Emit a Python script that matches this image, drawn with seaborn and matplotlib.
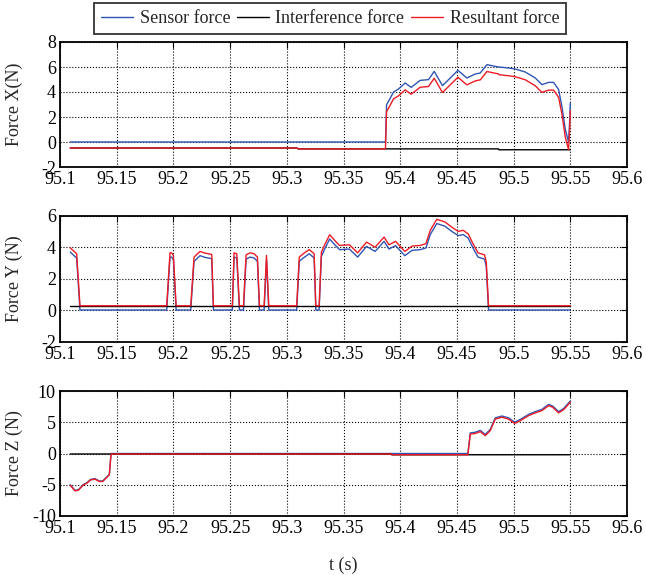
import numpy as np
import pandas as pd
import matplotlib
matplotlib.use("Agg")
import matplotlib.pyplot as plt
from matplotlib.lines import Line2D
import seaborn as sns

# ---- Force X ----
t_x = [95.109, 95.309, 95.310, 95.387, 95.388, 95.3897, 95.3941, 95.3985, 95.4044,
       95.4097, 95.4176, 95.425, 95.430, 95.4373, 95.4509, 95.4588, 95.4662, 95.4706,
       95.4765, 95.4838, 95.4866, 95.4870, 95.4956, 95.5015, 95.5103, 95.5191, 95.525,
       95.5309, 95.5353, 95.5397, 95.5426, 95.5456, 95.5485, 95.5495, 95.55]
sensor_x = [0, 0, 0, 0, 2.99, 3.25, 4.0, 4.24, 4.72,
            4.37, 4.93, 4.99, 5.65, 4.51, 5.73, 5.12, 5.44, 5.52,
            6.19, 6.05, 6.0, 6.0, 5.92, 5.84, 5.6, 5.12, 4.59,
            4.77, 4.77, 4.19, 2.85, 1.0, 0.0, 1.79, 3.12]
interf_x = [-0.48, -0.48, -0.55, -0.55, -0.55, -0.55, -0.55, -0.55, -0.55,
            -0.55, -0.55, -0.55, -0.55, -0.55, -0.55, -0.55, -0.55, -0.55,
            -0.55, -0.55, -0.55, -0.62, -0.62, -0.62, -0.62, -0.62, -0.62,
            -0.62, -0.62, -0.62, -0.62, -0.62, -0.62, -0.62, -0.62]

# ---- Force Y ----
t_y = [95.109, 95.1147, 95.1176, 95.1941, 95.197, 95.1985, 95.2, 95.2024, 95.2153,
       95.2182, 95.2235, 95.2279, 95.2338, 95.2353, 95.252, 95.2535, 95.2559, 95.2582,
       95.2618, 95.2641, 95.2676, 95.2712, 95.2741, 95.2759, 95.28, 95.2821, 95.2841,
       95.3087, 95.311, 95.3145, 95.3198, 95.3241, 95.3256, 95.3285, 95.3305, 95.3334,
       95.3378, 95.3422, 95.3465, 95.3552, 95.3625, 95.3703, 95.3779, 95.3858, 95.3901,
       95.3959, 95.4041, 95.4105, 95.4177, 95.4227, 95.4265, 95.4323, 95.4395, 95.4453,
       95.4512, 95.4555, 95.4599, 95.4642, 95.4686, 95.4744, 95.4759, 95.4779, 95.55]
sensor_y = [3.68, 3.3, 0, 0, 3.36, 3.36, 3.19, 0, 0,
            3.09, 3.45, 3.34, 3.26, 0, 0, 3.36, 3.3, 0,
            0, 3.23, 3.36, 3.3, 3.09, 0, 0, 3.19, 0,
            0, 3.09, 3.3, 3.57, 3.3, 0, 0, 3.4, 3.87,
            4.51, 4.15, 3.83, 3.87, 3.36, 4.04, 3.72, 4.36, 3.87,
            4.09, 3.45, 3.79, 3.83, 3.94, 4.79, 5.49, 5.32, 5.0,
            4.72, 4.79, 4.57, 3.94, 3.36, 3.23, 2.77, 0, 0]
interf_y = [0.27] * len(t_y)

# ---- Force Z ----
t_z = [95.109, 95.1132, 95.1162, 95.1206, 95.1235, 95.1271, 95.1309, 95.1347, 95.1376,
       95.1412, 95.1435, 95.145, 95.392, 95.3926, 95.4597, 95.4618, 95.4662, 95.4706,
       95.475, 95.4794, 95.4838, 95.4897, 95.4956, 95.5009, 95.5059, 95.5132, 95.5191,
       95.525, 95.5309, 95.5344, 95.5397, 95.5441, 95.55]
sensor_z = [-5.0, -5.9, -5.8, -4.95, -4.7, -4.14, -4.03, -4.4, -4.4,
            -3.76, -3.33, 0, 0, 0, 0, 3.3, 3.4, 3.7,
            3.05, 3.85, 5.7, 6.0, 5.7, 5.0, 5.45, 6.25, 6.7,
            7.06, 7.86, 7.6, 6.7, 7.2, 8.4]
interf_z = [-0.08] * 13 + [-0.2] * 20

# ---- axis setup ----
y_labels = ["Force X(N)", "Force Y (N)", "Force Z (N)"]
y_limits = [(-2, 8), (-2, 6), (-10, 10)]
y_ticks = [[-2, 0, 2, 4, 6, 8], [-2, 0, 2, 4, 6], [-10, -5, 0, 5, 10]]
x_ticks = [95.1, 95.15, 95.2, 95.25, 95.3, 95.35, 95.4, 95.45, 95.5, 95.55, 95.6]
x_tick_labels = ["95.1", "95.15", "95.2", "95.25", "95.3", "95.35",
                 "95.4", "95.45", "95.5", "95.55", "95.6"]
series_names = ["Sensor force", "Interference force", "Resultant force"]
series_colors = ["#2f55b4", "#000000", "#ee1c25"]

sns.set_theme(style="white")
plt.rcParams["font.family"] = ["Liberation Serif", "DejaVu Serif"]

fig = plt.figure(figsize=(6.46, 5.75), dpi=100)
W, H = 646, 575
boxes = [(42, 167), (215.5, 341.5), (391, 516)]
left, right = 60, 627

data = [(t_x, sensor_x, interf_x), (t_y, sensor_y, interf_y), (t_z, sensor_z, interf_z)]

for i, ((top, bot), (t, s, f)) in enumerate(zip(boxes, data)):
    ax = fig.add_axes([left / W, 1 - bot / H, (right - left) / W, (bot - top) / H])
    t = np.asarray(t)
    s = np.asarray(s, dtype=float)
    f = np.asarray(f, dtype=float)
    r = s + f
    for vals, col in zip([s, f, r], series_colors):
        sns.lineplot(x=t, y=vals, ax=ax, color=col, lw=1.0,
                     estimator=None, sort=False, legend=False)
    ax.set_xlim(95.1, 95.6)
    ax.set_ylim(*y_limits[i])
    ax.set_xticks(x_ticks)
    ax.set_xticklabels(x_tick_labels)
    ax.set_yticks(y_ticks[i])
    ax.set_yticklabels([str(v) for v in y_ticks[i]])
    ax.grid(True, color="black", linestyle=":", linewidth=0.8)
    ax.tick_params(direction="in", top=True, right=True, length=4, width=0.8,
                   labelsize=13, pad=3, colors="black")
    for sp in ax.spines.values():
        sp.set_color("black")
        sp.set_linewidth(1.3)
    ax.set_ylabel(y_labels[i], fontsize=13)
    ax.yaxis.set_label_coords((23 - left) / (right - left), 0.5)
    ax.set_xlabel("")
    ax.set_facecolor("white")

fig.text(343 / W, 1 - 565 / H, "t (s)", ha="center", va="center", fontsize=13)

handles = [Line2D([0], [0], color=c, lw=1.0) for c in series_colors]
leg = fig.legend(handles, series_names, loc="upper center",
                 bbox_to_anchor=(330 / W, 1 - 3 / H), ncol=3, fontsize=13,
                 frameon=True, fancybox=False, edgecolor="black",
                 handlelength=1.8, handletextpad=0.35, columnspacing=0.35,
                 borderpad=0.4, borderaxespad=0)
leg.get_frame().set_linewidth(1.3)

fig.savefig("out.png", dpi=100, facecolor="white")
